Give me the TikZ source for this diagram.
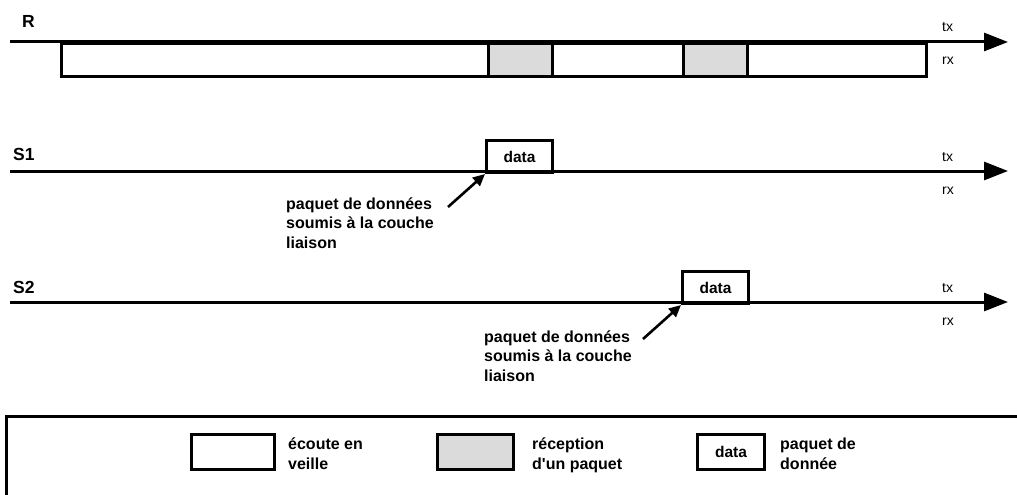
\documentclass[tikz,border=0pt]{standalone}
\usepackage{fontspec}
\setmainfont{Liberation Sans}
\usetikzlibrary{positioning,arrows.meta,calc}

\tikzset{
  axis/.style={line width=3pt,-{Triangle[length=24pt,width=18pt]}},
  idle/.style={draw,line width=3pt,fill=white,inner sep=0pt,anchor=north west},
  rxbox/.style={idle,fill=gray!28},
  databox/.style={idle,font=\bfseries\fontsize{15.5}{18}\selectfont},
  note/.style={line width=2.6pt,-{Triangle[length=12pt,width=11pt]}},
  lane/.style={font=\bfseries\fontsize{17.5}{20}\selectfont,anchor=base west,inner sep=0pt},
  side/.style={font=\fontsize{14}{16}\selectfont,anchor=base west,inner sep=0pt},
  txt/.style={font=\bfseries\fontsize{16}{19.3}\selectfont,align=left,anchor=base west,inner sep=0pt}
}

\begin{document}
\begin{tikzpicture}[x=1pt,y=-1pt]
  \useasboundingbox (0,0) rectangle (1017,495);
  \clip (0,0) rectangle (1017,495);

  % R
  \node[lane] (rn) at (22,28) {R};
  \node[idle,minimum width=865pt,minimum height=33pt] (rbox) at (60,42) {};
  \node[rxbox,minimum width=64pt,minimum height=33pt] (rp1) at (487,42) {};
  \node[rxbox,minimum width=64pt,minimum height=33pt] (rp2) at (682,42) {};
  \coordinate (r0) at (10,42);
  \coordinate (r1) at (1008,42);
  \draw[axis] (r0) -- (r1);
  \node[side] (rtx) at (942,32) {tx};
  \node[side] (rrx) at (942,65) {rx};

  % S1
  \node[lane] (s1n) at (13,160) {S1};
  \node[databox,minimum width=66pt,minimum height=32pt] (s1d) at (485,139) {data};
  \coordinate (s10) at (10,171);
  \coordinate (s11) at (1008,171);
  \draw[axis] (s10) -- (s11);
  \node[side] (s1tx) at (942,161) {tx};
  \node[side] (s1rx) at (942,194) {rx};
  \node[txt] (s1t) at (286,248) {paquet de données\\soumis à la couche\\liaison};
  \coordinate (s1a) at (448,207);
  \draw[note] (s1a) -- (s1d.south west);

  % S2
  \node[lane] (s2n) at (13,293) {S2};
  \node[databox,minimum width=66pt,minimum height=32pt] (s2d) at (681,270) {data};
  \coordinate (s20) at (10,302);
  \coordinate (s21) at (1008,302);
  \draw[axis] (s20) -- (s21);
  \node[side] (s2tx) at (942,292) {tx};
  \node[side] (s2rx) at (942,325) {rx};
  \node[txt] (s2t) at (484,381) {paquet de données\\soumis à la couche\\liaison};
  \coordinate (s2a) at (643,339);
  \draw[note] (s2a) -- (s2d.south west);

  % legende
  \draw[line width=3pt] (6,520) -- (6,416) -- (1040,416);
  \node[idle,minimum width=83pt,minimum height=35pt] (lg1) at (190,433) {};
  \node[txt] (lg1t) at (288,469) {écoute en\\veille};
  \node[rxbox,minimum width=76pt,minimum height=35pt] (lg2) at (436,433) {};
  \node[txt] (lg2t) at (532,469) {réception\\d\textquotesingle un paquet};
  \node[databox,minimum width=67pt,minimum height=35pt] (lg3) at (696,433) {data};
  \node[txt] (lg3t) at (780,469) {paquet de\\donnée};
\end{tikzpicture}
\end{document}
